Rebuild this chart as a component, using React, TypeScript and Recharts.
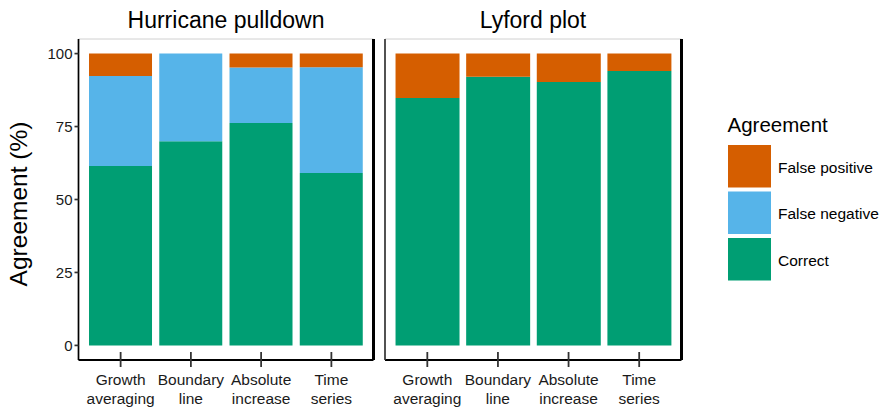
import React from "react";
import { BarChart, Bar, XAxis, YAxis, ReferenceLine } from "recharts";

// Method categories shared by both panels
const methods = ["Growth averaging", "Boundary line", "Absolute increase", "Time series"];
const methodLabelLines = [
  ["Growth", "averaging"],
  ["Boundary", "line"],
  ["Absolute", "increase"],
  ["Time", "series"],
];

// Agreement (%) for the hurricane pulldown panel
const hurricaneCorrect = [61.5, 70.0, 76.2, 59.1];
const hurricaneFalseNegative = [30.8, 30.0, 19.0, 36.2];
const hurricaneFalsePositive = [7.7, 0, 4.8, 4.7];

// Agreement (%) for the Lyford plot panel
const lyfordCorrect = [84.8, 92.1, 90.3, 94.0];
const lyfordFalseNegative = [0, 0, 0, 0];
const lyfordFalsePositive = [15.2, 7.9, 9.7, 6.0];

const yTicks = [0, 25, 50, 75, 100];
const panelTitles = ["Hurricane pulldown", "Lyford plot"];
const legendTitle = "Agreement";
const legendItems = ["False positive", "False negative", "Correct"];

const COLORS: Record<string, string> = {
  "False positive": "#D55E00",
  "False negative": "#56B4E9",
  Correct: "#009E73",
};

const FONT = "'Liberation Sans', Arial, Helvetica, sans-serif";

function buildRows(correct: number[], fn: number[], fp: number[]) {
  return methods.map((m, i) => ({
    method: m,
    lines: methodLabelLines[i],
    correct: correct[i],
    falseNegative: fn[i],
    falsePositive: fp[i],
  }));
}

const hurricaneRows = buildRows(hurricaneCorrect, hurricaneFalseNegative, hurricaneFalsePositive);
const lyfordRows = buildRows(lyfordCorrect, lyfordFalseNegative, lyfordFalsePositive);

const MethodTick = (props: any) => {
  const { x, y, payload } = props;
  const idx = methods.indexOf(payload.value);
  const lines = idx >= 0 ? methodLabelLines[idx] : [payload.value];
  return (
    <g>
      <line x1={x} x2={x} y1={y - 8} y2={y + 7} stroke="#333" strokeWidth={1.8} />
      {lines.map((t: string, i: number) => (
        <text
          key={i}
          x={x}
          y={y + 25 + i * 18.5}
          textAnchor="middle"
          fontFamily={FONT}
          fontSize={15.5}
          fill="#1a1a1a"
        >
          {t}
        </text>
      ))}
    </g>
  );
};

const Panel = ({
  rows,
  width,
  leftAxisWidth,
  showYTicks,
  leftLineColor,
}: {
  rows: any[];
  width: number;
  leftAxisWidth: number;
  showYTicks: boolean;
  leftLineColor: string;
}) => (
  <BarChart
    width={width}
    height={408}
    data={rows}
    margin={{ top: 39, right: 0, bottom: 0, left: 0 }}
    barCategoryGap="5%"
  >
    <XAxis
      dataKey="method"
      type="category"
      height={48}
      padding={{ left: 7, right: 7 }}
      axisLine={{ stroke: "#000", strokeWidth: 2 }}
      tickLine={false}
      tickSize={0}
      tickMargin={0}
      interval={0}
      tick={<MethodTick />}
    />
    <YAxis
      type="number"
      domain={[-5, 105]}
      ticks={yTicks}
      allowDataOverflow
      width={leftAxisWidth}
      axisLine={{ stroke: leftLineColor, strokeWidth: 1.7 }}
      tickLine={showYTicks ? { stroke: "#333", strokeWidth: 1.7 } : false}
      tickSize={4}
      tick={
        showYTicks
          ? { fontFamily: FONT, fontSize: 15, fill: "#1a1a1a" }
          : false
      }
    />
    <YAxis
      yAxisId="frame"
      orientation="right"
      type="number"
      domain={[-5, 105]}
      width={8.5}
      tick={false}
      tickLine={false}
      axisLine={{ stroke: "#000", strokeWidth: 3 }}
    />
    <ReferenceLine y={105} stroke="#d0d0d0" strokeWidth={1} />
    <Bar dataKey="correct" stackId="a" fill={COLORS.Correct} isAnimationActive={false} />
    <Bar dataKey="falseNegative" stackId="a" fill={COLORS["False negative"]} isAnimationActive={false} />
    <Bar dataKey="falsePositive" stackId="a" fill={COLORS["False positive"]} isAnimationActive={false} />
  </BarChart>
);

export default function App() {
  return (
    <div
      style={{
        position: "absolute",
        left: 0,
        top: 0,
        width: 881,
        height: 408,
        background: "#fff",
        fontFamily: FONT,
      }}
    >
      <div style={{ position: "absolute", left: 0, top: 0 }}>
        <Panel rows={hurricaneRows} width={382} leftAxisWidth={78.5} showYTicks leftLineColor="#000" />
      </div>
      <div style={{ position: "absolute", left: 375, top: 0 }}>
        <Panel rows={lyfordRows} width={315} leftAxisWidth={10} showYTicks={false} leftLineColor="#333" />
      </div>
      <svg
        width={881}
        height={408}
        style={{ position: "absolute", left: 0, top: 0, pointerEvents: "none" }}
      >
        <text x={226} y={28.3} textAnchor="middle" fontFamily={FONT} fontSize={23} fill="#000">
          {panelTitles[0]}
        </text>
        <text x={533} y={28.3} textAnchor="middle" fontFamily={FONT} fontSize={23} fill="#000">
          {panelTitles[1]}
        </text>
        <text
          x={27}
          y={204}
          transform="rotate(-90, 27, 204)"
          textAnchor="middle"
          fontFamily={FONT}
          fontSize={24.5}
          fill="#000"
        >
          Agreement (%)
        </text>
        <text x={727.5} y={132} fontFamily={FONT} fontSize={20.5} fill="#000">
          {legendTitle}
        </text>
        {legendItems.map((name, i) => (
          <g key={name}>
            <rect x={728} y={145 + i * 46.5} width={43} height={42.5} fill={COLORS[name]} />
            <text x={778} y={172.5 + i * 46.5} fontFamily={FONT} fontSize={15.5} fill="#000">
              {name}
            </text>
          </g>
        ))}
      </svg>
    </div>
  );
}
